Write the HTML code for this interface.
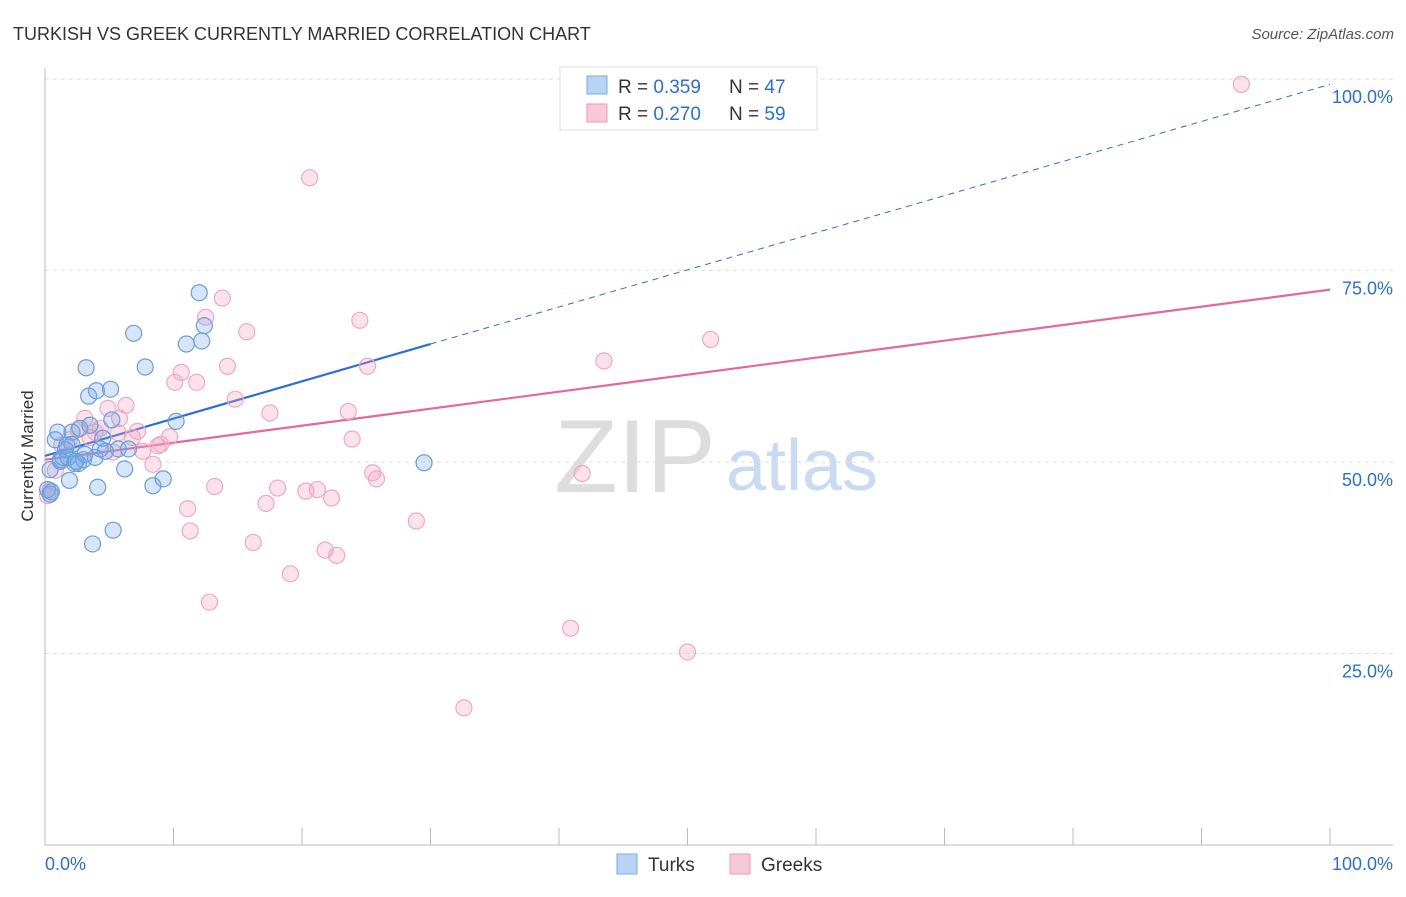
<!DOCTYPE html>
<html><head><meta charset="utf-8"><style>
body{margin:0;background:#fff;font-family:"Liberation Sans",sans-serif;}
svg text{font-family:"Liberation Sans",sans-serif;}
</style></head><body>
<svg id="chart" width="1406" height="892" viewBox="0 0 1406 892">
<text x="13" y="40" font-size="18" fill="#333">TURKISH VS GREEK CURRENTLY MARRIED CORRELATION CHART</text>
<text x="1394" y="39" font-size="15" fill="#555" text-anchor="end" font-style="italic">Source: ZipAtlas.com</text>
<text transform="translate(33,456) rotate(-90)" font-size="17" fill="#333" text-anchor="middle">Currently Married</text>
<g>
<text x="635" y="492" font-size="104" fill="#ddd" text-anchor="middle" font-family="Liberation Serif, serif">ZIP</text>
<text x="802" y="490" font-size="72" fill="#c9daf3" text-anchor="middle">atlas</text>
</g>
<g id="grid"></g><g id="axes"></g><g id="lines"></g><g id="pts"></g>
<g>
<rect x="560" y="67" width="257" height="63" fill="#fff" stroke="#ddd"/>
<rect x="587" y="76" width="20" height="18" fill="#b8d4f5" stroke="#7aa8e0"/>
<text x="618" y="93" font-size="19" fill="#333">R = <tspan fill="#2a6fd6">0.359</tspan></text>
<text x="729" y="93" font-size="19" fill="#333">N = <tspan fill="#2a6fd6">47</tspan></text>
<rect x="587" y="104" width="20" height="18" fill="#f9c8d8" stroke="#ec9ab5"/>
<text x="618" y="120" font-size="19" fill="#333">R = <tspan fill="#2a6fd6">0.270</tspan></text>
<text x="729" y="120" font-size="19" fill="#333">N = <tspan fill="#2a6fd6">59</tspan></text>
</g>
<g>
<rect x="617" y="854" width="20" height="20" fill="#b8d4f5" stroke="#7aa8e0"/>
<text x="648" y="871" font-size="19" fill="#333">Turks</text>
<rect x="730" y="854" width="20" height="20" fill="#f9c8d8" stroke="#ec9ab5"/>
<text x="761" y="871" font-size="19" fill="#333">Greeks</text>
</g>
</svg>
<script>
const yTicks=[25,50,75,100];
const yTickLabels=["25.0%","50.0%","75.0%","100.0%"];
const turksX=[0.2,0.4,0.5,0.8,1.0,1.2,1.4,1.6,1.7,1.9,2.1,2.3,2.6,2.7,3.0,3.2,3.4,3.5,3.7,3.9,4.0,4.1,4.3,4.5,5.1,5.2,5.7,6.2,6.5,6.9,7.8,8.4,9.2,10.2,11.0,12.0,12.2,12.4,29.5,1.2,1.8,2.4,3.1,0.4,5.3,2.1,4.7];
const turksY=[46.4,49.0,46.1,52.9,53.9,50.3,50.6,51.6,52.2,47.6,53.9,49.8,49.8,54.4,50.3,62.3,58.6,54.8,39.3,50.6,59.3,46.7,51.7,53.1,59.5,55.5,51.7,49.1,51.7,66.8,62.4,46.9,47.8,55.3,65.4,72.1,65.8,67.8,49.9,50.1,50.6,50.1,51.0,45.8,41.1,52.3,51.4];
const greeksX=[0.2,0.4,0.8,1.3,1.9,2.6,3.1,3.5,3.9,4.3,4.9,5.3,5.7,5.8,6.3,6.8,7.2,7.6,8.4,8.8,9.0,9.7,10.1,10.6,11.3,11.1,11.8,12.5,12.8,13.2,13.8,14.2,14.8,15.7,16.2,17.2,17.5,18.1,19.1,20.3,20.6,21.2,21.8,22.3,22.7,23.6,23.9,24.5,25.1,25.5,25.8,28.9,32.6,40.9,41.8,43.5,50.0,51.8,93.1,56.3];
const greeksY=[45.6,46.3,48.9,52.2,52.9,54.2,55.7,53.2,53.9,54.4,57.0,51.3,53.8,55.7,57.4,53.2,54.0,51.4,49.7,52.1,52.3,53.3,60.4,61.7,41.0,43.9,60.4,68.9,31.7,46.8,71.4,62.5,58.2,67.0,39.5,44.6,56.4,46.6,35.4,46.2,87.1,46.4,38.5,45.3,37.8,56.6,53.0,68.5,62.5,48.6,47.8,42.3,17.9,28.3,48.5,63.2,25.2,66.0,99.3,99.8];
const turkLine=[[0,50.8],[30,65.4]],turkDash=[[30,65.4],[100,99.3]],greekLine=[[0,50.3],[100,72.5]];
const X=v=>45+v*12.85, Y=v=>845-v*7.66;
const NS="http://www.w3.org/2000/svg";
function mk(p,t,a){const e=document.createElementNS(NS,t);for(const k in a)e.setAttribute(k,a[k]);document.getElementById(p).appendChild(e);return e;}
yTicks.forEach((t,i)=>{
 const g=mk('grid','line',{x1:45,x2:1393,y1:Y(t),y2:Y(t),stroke:'#ddd','stroke-dasharray':'4,4'});
 
 
 const l=mk('axes','text',{x:1393,y:Y(t)+24,'font-size':18,fill:'#2a6fd6','text-anchor':'end'});l.textContent=yTickLabels[i];
 
 
});
const ax=mk('axes','line',{x1:45,x2:1393,y1:845,y2:845,stroke:'#bbb'});


const ay=mk('axes','line',{x1:45,x2:45,y1:68,y2:845,stroke:'#bbb'});


for(let i=0;i<=10;i++){const t=mk('axes','line',{x1:X(i*10),x2:X(i*10),y1:828,y2:845,stroke:'#bbb'});
 
 }
const l0=mk('axes','text',{x:45,y:870,'font-size':18,fill:'#2a6fd6'});l0.textContent="0.0%";


const l1=mk('axes','text',{x:1393,y:870,'font-size':18,fill:'#2a6fd6','text-anchor':'end'});l1.textContent="100.0%";


greeksX.forEach((x,i)=>{const c=mk('pts','circle',{cx:X(x),cy:Y(greeksY[i]),r:8,fill:'rgba(244,160,190,0.3)',stroke:'#f0a8c0','stroke-width':1.2});
 
 });
turksX.forEach((x,i)=>{const c=mk('pts','circle',{cx:X(x),cy:Y(turksY[i]),r:8,fill:'rgba(120,170,230,0.3)',stroke:'#6a9edc','stroke-width':1.2});
 
 });
const tl=mk('lines','line',{x1:X(turkLine[0][0]),y1:Y(turkLine[0][1]),x2:X(turkLine[1][0]),y2:Y(turkLine[1][1]),stroke:'#2a6fd6','stroke-width':2.2});


const td=mk('lines','line',{x1:X(turkDash[0][0]),y1:Y(turkDash[0][1]),x2:X(turkDash[1][0]),y2:Y(turkDash[1][1]),stroke:'#2a6fd6','stroke-width':1,'stroke-dasharray':'6,5'});


const gl=mk('lines','line',{x1:X(greekLine[0][0]),y1:Y(greekLine[0][1]),x2:X(greekLine[1][0]),y2:Y(greekLine[1][1]),stroke:'#e2699a','stroke-width':2.2});


</script>
</body></html>
